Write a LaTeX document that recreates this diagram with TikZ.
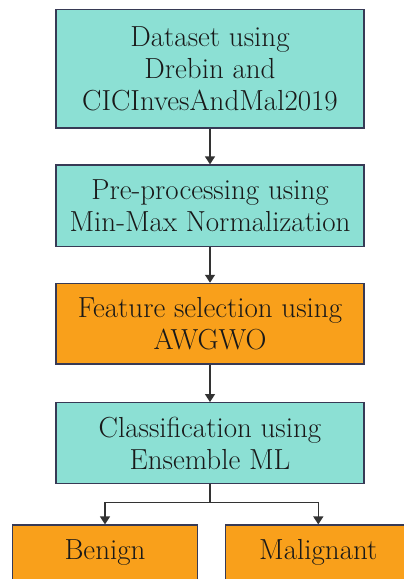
\documentclass[tikz,border=0pt]{standalone}
\usetikzlibrary{arrows.meta}
\definecolor{tealbox}{RGB}{140,224,212}
\definecolor{orangebox}{RGB}{249,160,27}
\definecolor{boxline}{RGB}{55,58,85}
\tikzset{
  box/.style={draw=boxline, line width=1.2pt, minimum width=308pt, align=center, inner sep=0pt,
    font=\fontsize{29}{32}\selectfont, text=black!90},
  tealstep/.style={box, fill=tealbox},
  orangestep/.style={box, fill=orangebox},
  leafbox/.style={box, fill=orangebox, minimum width=185.4pt},
  conn/.style={draw=black!80, line width=1.3pt, -{Triangle[width=10pt,length=8pt]}},
  plain/.style={draw=black!80, line width=1.3pt}
}
\begin{document}
\begin{tikzpicture}[x=1pt,y=-1pt]
\clip (0,0) rectangle (404,579);
\fill[white] (0,0) rectangle (404,579);
\node[tealstep, minimum height=118.7pt] (b1) at (210,68.7) {Dataset using\\Drebin and\\CICInvesAndMal2019};
\node[tealstep, minimum height=81.7pt] (b2) at (210,205.8) {Pre-processing using\\Min-Max Normalization};
\node[orangestep, minimum height=80.7pt] (b3) at (210,323.7) {Feature selection using\\AWGWO};
\node[tealstep, minimum height=80.7pt] (b4) at (210,443) {Classification using\\Ensemble ML};
\node[leafbox, minimum height=55pt] (ben) at (105,552.5) {Benign};
\node[leafbox, minimum height=55pt] (mal) at (318.3,552.5) {Malignant};
\coordinate (split) at (210,502.3);
\draw[conn] (b1) -- (b2);
\draw[conn] (b2) -- (b3);
\draw[conn] (b3) -- (b4);
\draw[plain] (b4.south) -- (split);
\draw[conn] (split) -| (ben.north);
\draw[conn] (split) -| (mal.north);
\end{tikzpicture}
\end{document}
